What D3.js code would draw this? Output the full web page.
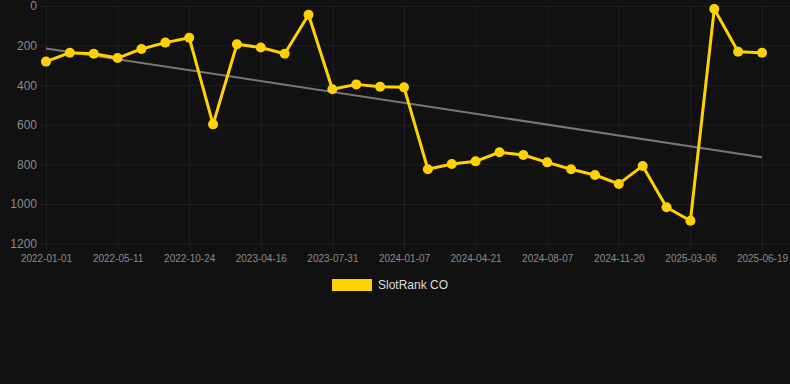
<!DOCTYPE html>
<html>
<head>
<meta charset="utf-8">
<script src="https://cdn.jsdelivr.net/npm/d3@7/dist/d3.min.js"></script>
<style>
  html, body { margin: 0; padding: 0; background: #111111; }
  svg { display: block; font-family: "Liberation Sans", Arial, sans-serif; }
</style>
</head>
<body>
<svg id="chart" width="790" height="384"></svg>
<script>
const dates = [
  "2022-01-01","2022-02-14","2022-03-28","2022-05-11","2022-07-05","2022-08-29",
  "2022-10-24","2022-12-18","2023-02-20","2023-04-16","2023-05-21","2023-06-25",
  "2023-07-31","2023-09-22","2023-11-14","2024-01-07","2024-02-11","2024-03-17",
  "2024-04-21","2024-05-27","2024-07-02","2024-08-07","2024-09-11","2024-10-16",
  "2024-11-20","2024-12-25","2025-01-29","2025-03-06","2025-04-10","2025-05-15",
  "2025-06-19"
];
const rankValues = [
  281, 236, 241, 263, 217, 185, 160, 598, 193, 210, 241, 44, 421, 396, 408, 411,
  825, 798, 785, 739, 753, 790, 825, 854, 899, 808, 1017, 1085, 15, 231, 236
];
const yTicks = [0, 200, 400, 600, 800, 1000, 1200];
const seriesName = "SlotRank CO";

const svg = d3.select("#chart");
const W = 790, H = 384;
const pLeft = 46, pRight = 762, pTop = 6, pBottom = 243.5;

const x = d3.scalePoint().domain(dates).range([pLeft, pRight]);
const y = d3.scaleLinear().domain([0, 1200]).range([pTop, pBottom]);

svg.append("rect").attr("width", W).attr("height", H).attr("fill", "#111111");

// horizontal grid
const yAxis = d3.axisLeft(y).tickValues(yTicks).tickFormat(d3.format("d"))
  .tickSize(-(W - 40)).tickPadding(3);
const gy = svg.append("g").attr("transform", "translate(40,0)").call(yAxis);
gy.select(".domain").remove();
gy.selectAll(".tick line").attr("stroke", "rgba(255,255,255,0.06)").attr("stroke-width", 1);
gy.selectAll(".tick text").attr("fill", "#8a8a8a").attr("font-size", 12).attr("x", -3);

// vertical grid
const shownDates = dates.filter((d, i) => i % 3 === 0);
const xAxis = d3.axisBottom(x).tickValues(shownDates).tickSize(-(pBottom - pTop) - 6).tickPadding(10);
const gx = svg.append("g").attr("transform", `translate(0,${pBottom + 6})`).call(xAxis);
gx.select(".domain").remove();
gx.selectAll(".tick line").attr("stroke", "rgba(255,255,255,0.06)").attr("stroke-width", 1);
gx.selectAll(".tick text").attr("fill", "#8a8a8a").attr("font-size", 10).attr("dy", "0.2em");

// trend line (least squares regression over index)
const n = rankValues.length;
const mx = d3.mean(rankValues, (d, i) => i);
const my = d3.mean(rankValues);
let sxy = 0, sxx = 0;
rankValues.forEach((v, i) => { sxy += (i - mx) * (v - my); sxx += (i - mx) * (i - mx); });
const slope = sxy / sxx, intercept = my - slope * mx;
svg.append("line")
  .attr("x1", x(dates[0])).attr("y1", y(intercept))
  .attr("x2", x(dates[n - 1])).attr("y2", y(intercept + slope * (n - 1)))
  .attr("stroke", "#777777").attr("stroke-width", 2);

// series line
const line = d3.line().x((d, i) => x(dates[i])).y(d => y(d));
svg.append("path").datum(rankValues)
  .attr("d", line).attr("fill", "none")
  .attr("stroke", "#FFD100").attr("stroke-width", 3).attr("stroke-linejoin", "round");

svg.append("g").selectAll("circle").data(rankValues).join("circle")
  .attr("cx", (d, i) => x(dates[i])).attr("cy", d => y(d)).attr("r", 5)
  .attr("fill", "#FFD100");

// legend
const lg = svg.append("g");
lg.append("rect").attr("x", 332).attr("y", 279).attr("width", 40).attr("height", 12).attr("fill", "#FFD100");
lg.append("text").attr("x", 378).attr("y", 285).attr("dy", "0.35em")
  .attr("fill", "#dddddd").attr("font-size", 12).text(seriesName);
</script>
</body>
</html>
